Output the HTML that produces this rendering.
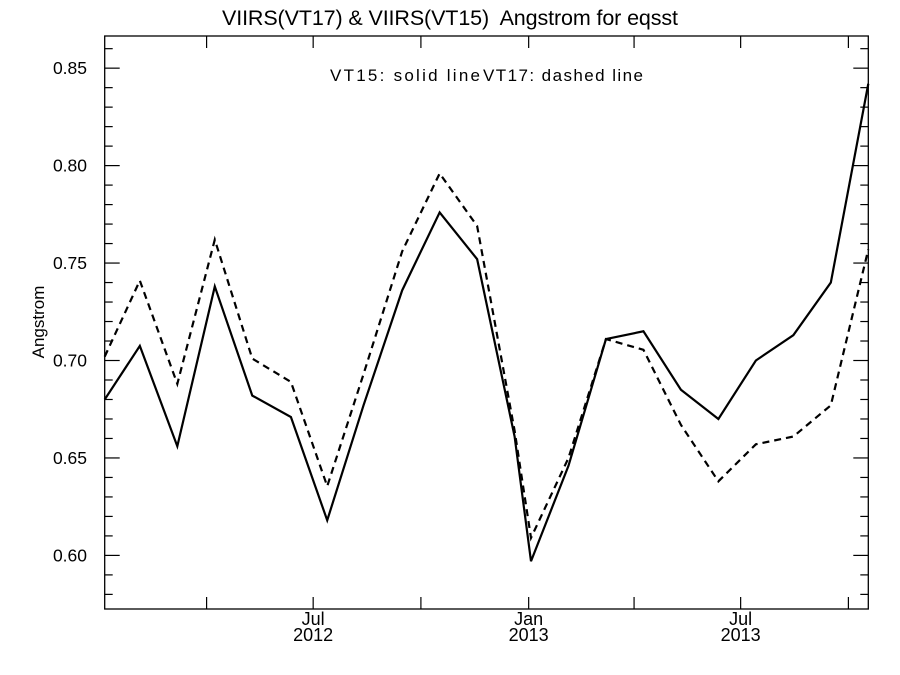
<!DOCTYPE html>
<html><head><meta charset="utf-8"><style>
html,body{margin:0;padding:0;background:#fff;}
svg{display:block;font-family:"Liberation Sans",Arial,sans-serif;}
</style></head><body>
<svg id="chart" width="900" height="675" viewBox="0 0 900 675">
<text x="450" y="25" text-anchor="middle" font-size="21.5" textLength="456" fill="#000" xml:space="preserve">VIIRS(VT17) &amp; VIIRS(VT15)  Angstrom for eqsst</text>
<text x="330" y="81" font-size="17" textLength="150" fill="#000">VT15: solid line</text>
<text x="483" y="81" font-size="17" textLength="160" fill="#000">VT17: dashed line</text>
<text transform="translate(44,322) rotate(-90)" text-anchor="middle" font-size="17" fill="#000">Angstrom</text>
<g id="axes"></g>
<g id="series"></g>
</svg>
<script>
const days = [4,34,66,98,130,163,194,225,258,290,322,354,368,400,432,464,496,528,560,592,624,656];
const vt15 = [0.680,0.7075,0.656,0.738,0.682,0.671,0.618,0.677,0.736,0.776,0.752,0.661,0.597,0.646,0.711,0.715,0.685,0.670,0.700,0.713,0.740,0.842];
const vt17 = [0.702,0.741,0.688,0.762,0.701,0.689,0.6355,0.693,0.756,0.796,0.769,0.664,0.609,0.650,0.711,0.7055,0.667,0.638,0.657,0.661,0.677,0.757];
const yTicks = [0.60,0.65,0.70,0.75,0.80,0.85];
const yTickLabels = ["0.60","0.65","0.70","0.75","0.80","0.85"];
const xMajorDays = [182,366,547];
const xMajorLabels = [["Jul","2012"],["Jan","2013"],["Jul","2013"]];
const xMinorDays = [91,274,456,639];

const L=104.7,R=868.3,T=36,B=609;
const X0=4,X1=656,Y0=0.5725,Y1=0.8665;
const xs=d=>L+(d-X0)/(X1-X0)*(R-L);
const ys=v=>B-(v-Y0)/(Y1-Y0)*(B-T);
const NS="http://www.w3.org/2000/svg";
function mk(tag,attrs,parent){const e=document.createElementNS(NS,tag);for(const k in attrs)e.setAttribute(k,attrs[k]);parent.appendChild(e);return e;}
const ax=document.getElementById('axes');
const box=mk('rect',{x:L,y:T,width:R-L,height:B-T,fill:'none',stroke:'#000','stroke-width':1.3},ax);


for(let v=0.58;v<=0.8665;v+=0.01){
  const vv=Math.round(v*100)/100;
  const major=Math.abs(vv*20-Math.round(vv*20))<1e-6;
  const len=major?15:8;const y=ys(vv);
  const t1=mk('line',{x1:L,x2:L+len,y1:y,y2:y,stroke:'#000','stroke-width':1.2},ax);
  
  
  const t2=mk('line',{x1:R,x2:R-len,y1:y,y2:y,stroke:'#000','stroke-width':1.2},ax);
  
  
}
yTicks.forEach((v,i)=>{
  const t=mk('text',{x:87,y:ys(v)+6,'text-anchor':'end','font-size':17.5,fill:'#000'},ax);
  t.textContent=yTickLabels[i];
  
  
});
xMajorDays.concat(xMinorDays).forEach(d=>{
  const x=xs(d);
  const a=mk('line',{x1:x,x2:x,y1:B,y2:B-12,stroke:'#000','stroke-width':1.2},ax);
  
  
  const b=mk('line',{x1:x,x2:x,y1:T,y2:T+12,stroke:'#000','stroke-width':1.2},ax);
  
  
});
xMajorDays.forEach((d,i)=>{
  const x=xs(d);
  const t1=mk('text',{x:x,y:625,'text-anchor':'middle','font-size':18,fill:'#000'},ax);
  t1.textContent=xMajorLabels[i][0];
  
  
  const t2=mk('text',{x:x,y:641,'text-anchor':'middle','font-size':18,fill:'#000'},ax);
  t2.textContent=xMajorLabels[i][1];
  
  
});
const sg=document.getElementById('series');
const p1=mk('polyline',{points:days.map((d,i)=>xs(d)+','+ys(vt15[i])).join(' '),fill:'none',stroke:'#000','stroke-width':2.2},sg);


const p2=mk('polyline',{points:days.map((d,i)=>xs(d)+','+ys(vt17[i])).join(' '),fill:'none',stroke:'#000','stroke-width':2.2,'stroke-dasharray':'7,5'},sg);


</script>
</body></html>
